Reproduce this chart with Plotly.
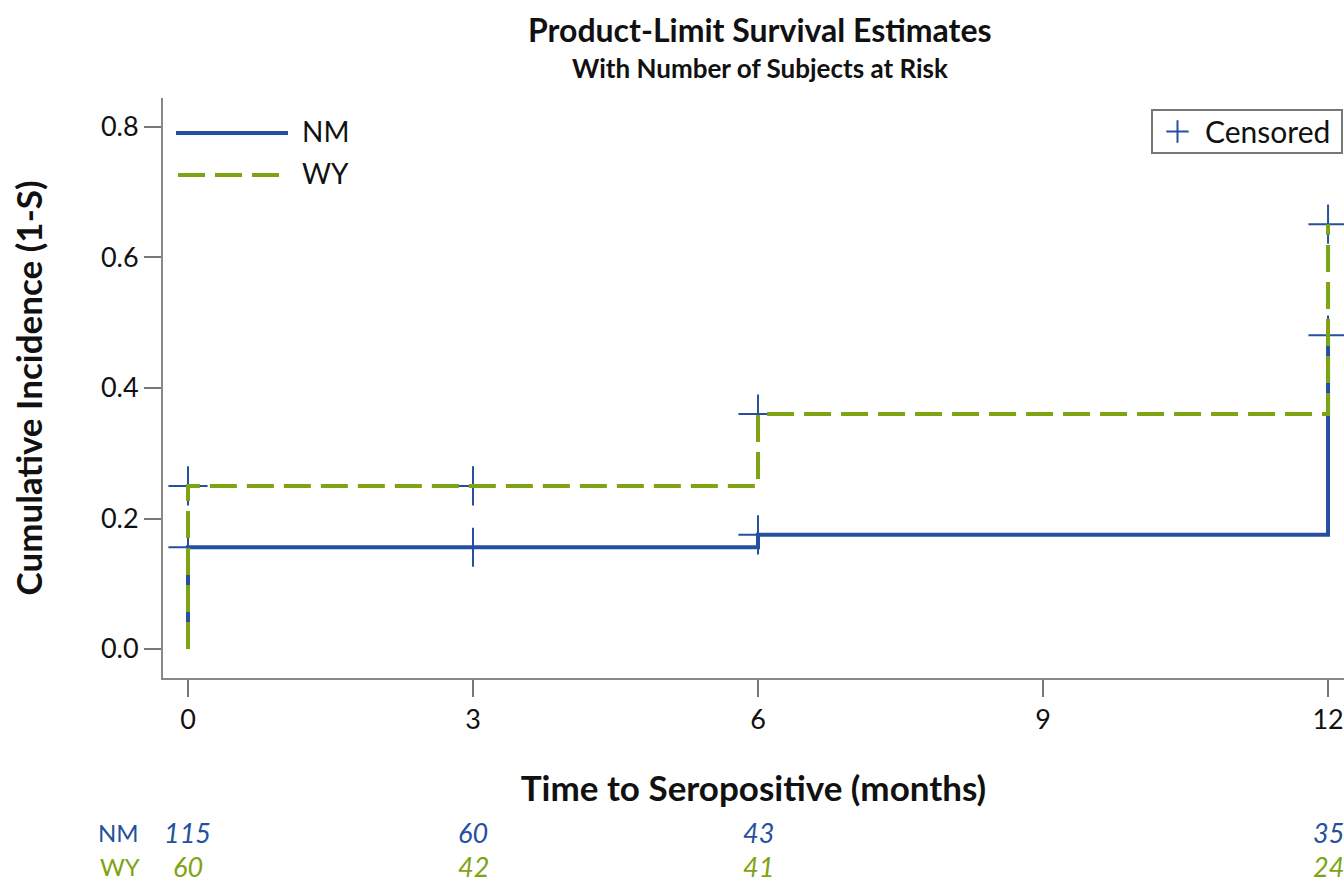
import plotly.graph_objects as go

# ---- data ----
nm_time = [0, 0, 6, 12]
nm_cif = [0.0, 0.156, 0.175, 0.481]
wy_time = [0, 0, 6, 12]
wy_cif = [0.0, 0.25, 0.36, 0.651]

nm_cens_time = [0, 3, 6, 12]
nm_cens_cif = [0.156, 0.156, 0.175, 0.481]
wy_cens_time = [0, 3, 6, 12]
wy_cens_cif = [0.25, 0.25, 0.36, 0.651]

risk_times = [0, 3, 6, 12]
nm_at_risk = [115, 60, 43, 35]
wy_at_risk = [60, 42, 41, 24]

x_ticks = [0, 3, 6, 9, 12]
y_ticks = [0.0, 0.2, 0.4, 0.6, 0.8]

BLUE = "#24509e"
GREEN = "#7ea313"
FONT = "Lato"

W, H = 1344, 883
L, R, T, B = 163, 0, 98, 205
pw, ph = W - L - R, H - T - B


def px(xp):
    return (xp - L) / pw


def py(yp):
    return (H - B - yp) / ph


fig = go.Figure()

fig.add_trace(go.Scatter(
    x=nm_cens_time + wy_cens_time, y=nm_cens_cif + wy_cens_cif,
    mode="markers", name="Censored", showlegend=True,
    marker=dict(symbol="cross-thin", size=28, color=BLUE,
                line=dict(color=BLUE, width=2)),
))
fig.add_trace(go.Scatter(
    x=nm_time, y=nm_cif, mode="lines", line_shape="hv", name="NM",
    showlegend=False, line=dict(color=BLUE, width=4),
))
fig.add_trace(go.Scatter(
    x=wy_time, y=wy_cif, mode="lines", line_shape="hv", name="WY",
    showlegend=False, line=dict(color=GREEN, width=4, dash="27px,10px"),
))

# at-risk table
for t, n in zip(risk_times, nm_at_risk):
    fig.add_annotation(x=t, xref="x", y=py(832), yref="paper", yanchor="middle",
                       xanchor="center", text=f"<i>{n}</i>", showarrow=False,
                       font=dict(family=FONT, size=27, color=BLUE))
for t, n in zip(risk_times, wy_at_risk):
    fig.add_annotation(x=t, xref="x", y=py(866), yref="paper", yanchor="middle",
                       xanchor="center", text=f"<i>{n}</i>", showarrow=False,
                       font=dict(family=FONT, size=27, color=GREEN))

fig.add_annotation(x=px(118), xref="paper", xanchor="center", y=py(832), yref="paper",
                   yanchor="middle", text="NM", showarrow=False,
                   font=dict(family=FONT, size=24, color=BLUE))
fig.add_annotation(x=px(120), xref="paper", xanchor="center", y=py(866), yref="paper",
                   yanchor="middle", text="WY", showarrow=False,
                   font=dict(family=FONT, size=24, color=GREEN))

# titles
fig.add_annotation(x=px(760), xref="paper", xanchor="center", y=py(29), yref="paper",
                   yanchor="middle", text="<b>Product-Limit Survival Estimates</b>",
                   showarrow=False, font=dict(family=FONT, size=32, color="#111"))
fig.add_annotation(x=px(760), xref="paper", xanchor="center", y=py(68), yref="paper",
                   yanchor="middle", text="<b>With Number of Subjects at Risk</b>",
                   showarrow=False, font=dict(family=FONT, size=26, color="#111"))

# group legend (line samples + labels)
fig.add_shape(type="line", xref="paper", yref="paper", x0=px(176), x1=px(288),
              y0=py(133), y1=py(133), line=dict(color=BLUE, width=4))
fig.add_shape(type="line", xref="paper", yref="paper", x0=px(178), x1=px(282),
              y0=py(175), y1=py(175), line=dict(color=GREEN, width=4, dash="27px,10px"))
fig.add_annotation(x=px(300), xref="paper", xanchor="left", y=py(131), yref="paper",
                   yanchor="middle", text="NM", showarrow=False,
                   font=dict(family=FONT, size=28, color="#111"))
fig.add_annotation(x=px(300), xref="paper", xanchor="left", y=py(173), yref="paper",
                   yanchor="middle", text="WY", showarrow=False,
                   font=dict(family=FONT, size=28, color="#111"))

# censored legend frame
fig.add_shape(type="rect", xref="paper", yref="paper", x0=px(1152), x1=px(1342),
              y0=py(110), y1=py(153), line=dict(color="#777", width=2),
              fillcolor="rgba(0,0,0,0)", layer="above")

fig.update_layout(
    width=W, height=H,
    margin=dict(l=L, r=R, t=T, b=B),
    plot_bgcolor="white", paper_bgcolor="white",
    font=dict(family=FONT, color="#111"),
    legend=dict(x=px(1150), xanchor="left", y=py(131.5), yanchor="middle",
                borderwidth=0, bgcolor="rgba(0,0,0,0)",
                font=dict(family=FONT, size=30, color="#111"),
                itemwidth=45),
    xaxis=dict(range=[-0.263, 12.168], tickvals=x_ticks, ticks="outside",
               ticklen=17, tickwidth=2, tickcolor="#777", showline=True,
               linecolor="#888", linewidth=2, showgrid=False, zeroline=False,
               tickfont=dict(family=FONT, size=27, color="#111"),
               title=dict(text="<b>Time to Seropositive (months)</b>",
                          font=dict(family=FONT, size=35, color="#111"), standoff=42)),
    yaxis=dict(range=[-0.0444, 0.8444], tickvals=y_ticks, tickformat=".1f",
               ticks="outside", ticklen=17, tickwidth=2, tickcolor="#777",
               showline=True, linecolor="#888", linewidth=2, showgrid=False,
               zeroline=False, tickfont=dict(family=FONT, size=27, color="#111"),
               title=dict(text="<b>Cumulative Incidence (1-S)</b>",
                          font=dict(family=FONT, size=35, color="#111"), standoff=48)),
)

fig.write_html("out.html")
